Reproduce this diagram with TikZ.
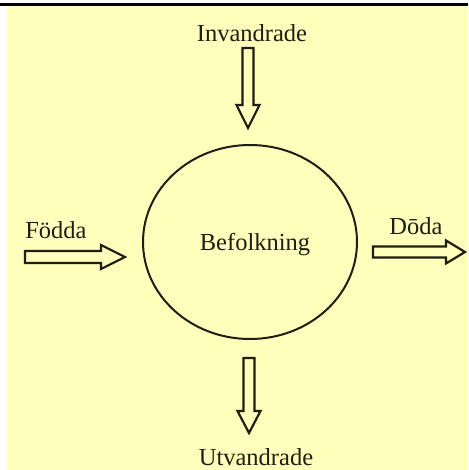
\documentclass[tikz,border=0pt]{standalone}
\usepackage{fontspec}
\setmainfont{Liberation Serif}
\definecolor{bgyellow}{RGB}{255,255,187}
\definecolor{inkdark}{RGB}{30,30,20}
\begin{document}
\begin{tikzpicture}[x=1pt,y=-1pt,
  lbl/.style={font=\fontsize{24.5}{28}\selectfont, text=inkdark, inner sep=0pt},
  blockarrow/.style={draw=inkdark, line width=2.2pt, line join=miter, fill=bgyellow},
  popring/.style={draw=inkdark, line width=2pt}]
\useasboundingbox (0,0) rectangle (468,470);
\fill[white] (0,0) rectangle (468,470);
\fill[bgyellow] (7,6) rectangle (468,470);
\fill[black] (0,3) rectangle (468,6.5);
% population circle
\draw[popring] (250,242) ellipse [x radius=107, y radius=97];
\node[lbl] (pop) at (255,245) {Befolkning};
% labels
\node[lbl] (inv) at (252,33) {Invandrade};
\node[lbl] (utv) at (256,457) {Utvandrade};
\node[lbl] (fod) at (56,230) {Födda};
\node[lbl] (dod) at (416,226) {Dōda};
% top arrow (in)
\draw[blockarrow] (242.5,48) -- (253.5,48) -- (253.5,105) -- (259.5,105) -- (248,128) -- (236.5,105) -- (242.5,105) -- cycle;
% bottom arrow (out)
\draw[blockarrow] (243.5,358) -- (254.5,358) -- (254.5,411) -- (260.5,411) -- (249,433) -- (237.5,411) -- (243.5,411) -- cycle;
% left arrow (born)
\draw[blockarrow] (25,251) -- (101,251) -- (101,245) -- (125,257) -- (101,269) -- (101,263) -- (25,263) -- cycle;
% right arrow (dead)
\draw[blockarrow] (373,246.5) -- (446,246.5) -- (446,240.5) -- (465,252) -- (446,263.5) -- (446,257.5) -- (373,257.5) -- cycle;
\end{tikzpicture}
\end{document}
